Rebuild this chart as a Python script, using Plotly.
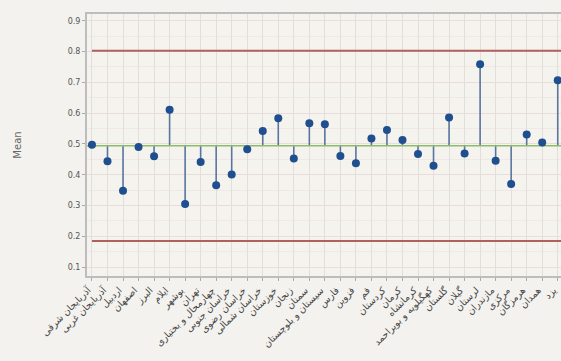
import plotly.graph_objects as go

provinces = [
    "آذربایجان شرقی", "آذربایجان غربی", "اردبیل", "اصفهان", "البرز", "ایلام",
    "بوشهر", "تهران", "چهارمحال و بختیاری", "خراسان جنوبی", "خراسان رضوی",
    "خراسان شمالی", "خوزستان", "زنجان", "سمنان", "سیستان و بلوچستان", "فارس",
    "قزوین", "قم", "کردستان", "کرمان", "کرمانشاه", "کهگیلویه و بویراحمد",
    "گلستان", "گیلان", "لرستان", "مازندران", "مرکزی", "هرمزگان", "همدان", "یزد",
]
means = [
    0.497, 0.444, 0.348, 0.490, 0.460, 0.611, 0.305, 0.441, 0.366, 0.401,
    0.483, 0.542, 0.583, 0.453, 0.567, 0.564, 0.461, 0.437, 0.518, 0.545,
    0.513, 0.467, 0.429, 0.586, 0.469, 0.759, 0.445, 0.370, 0.531, 0.505, 0.707,
]
center = 0.494
upper_limit = 0.803
lower_limit = 0.185
y_ticks = [0.1, 0.2, 0.3, 0.4, 0.5, 0.6, 0.7, 0.8, 0.9]

idx = list(range(len(provinces)))

stem_x, stem_y = [], []
for i, v in zip(idx, means):
    stem_x += [i, i, None]
    stem_y += [center, v, None]

fig = go.Figure()
fig.add_trace(go.Scatter(x=[0, 30.3], y=[upper_limit, upper_limit], mode="lines",
                         line=dict(color="#b0605f", width=2), hoverinfo="skip"))
fig.add_trace(go.Scatter(x=[0, 30.3], y=[lower_limit, lower_limit], mode="lines",
                         line=dict(color="#b0605f", width=2), hoverinfo="skip"))
fig.add_trace(go.Scatter(x=stem_x, y=stem_y, mode="lines",
                         line=dict(color="#5a76a0", width=1.6), hoverinfo="skip"))
fig.add_trace(go.Scatter(x=[-0.35, 30.3], y=[center, center], mode="lines",
                         line=dict(color="#8dbb6a", width=1.6), hoverinfo="skip"))
fig.add_trace(go.Scatter(x=idx, y=means, mode="markers", cliponaxis=False,
                         marker=dict(color="#1f4f8f", size=8), hoverinfo="skip"))

fig.update_layout(
    width=561, height=361,
    margin=dict(l=87, r=0, t=14, b=85, autoexpand=False),
    paper_bgcolor="#f3f2ee",
    plot_bgcolor="#f5f3ee",
    showlegend=False,
    font=dict(family="DejaVu Sans", color="#555555", size=9),
)
fig.update_xaxes(
    range=[-0.32, 30.21],
    tickmode="array", tickvals=idx, ticktext=provinces,
    tickangle=-45, tickfont=dict(size=9.5, color="#444444"),
    ticklabeloverflow="allow", ticklabelshift=-4,
    showgrid=True, gridcolor="#e2dedb", gridwidth=1,
    ticks="outside", ticklen=3, tickcolor="#aaaaaa",
    showline=True, linecolor="#bdbdbd", linewidth=2, mirror=True,
    zeroline=False, automargin=False,
)
fig.update_yaxes(
    range=[0.071, 0.922],
    tickmode="array", tickvals=y_ticks, ticktext=[f"{t:.1f}" for t in y_ticks],
    tickfont=dict(size=8, color="#555555"),
    showgrid=True, gridcolor="#e8dcdc", gridwidth=1,
    minor=dict(dtick=0.05, showgrid=True, gridcolor="#efe8e6"),
    ticks="outside", ticklen=3, tickcolor="#aaaaaa",
    showline=True, linecolor="#bdbdbd", linewidth=2, mirror=True,
    zeroline=False, automargin=False,
    title=dict(text="Mean", font=dict(size=10, color="#666666"), standoff=44),
)

fig.write_html("out.html", config={"displayModeBar": False},
               post_script="document.body.style.margin='0';")
